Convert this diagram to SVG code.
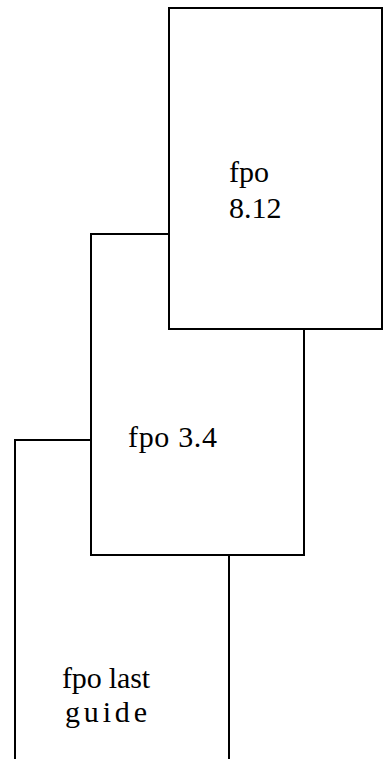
<svg xmlns="http://www.w3.org/2000/svg" width="386" height="759" viewBox="0 0 386 759">
<style>
.box{fill:#fff;stroke:#000;stroke-width:2}
.t{font-family:"Liberation Serif","Times New Roman",serif;font-size:30px;fill:#000}
</style>
<rect width="386" height="759" fill="#fff"/>
<g id="node-last">
<rect class="box" x="15" y="440" width="214" height="330"/>
<text class="t" x="62" y="688" textLength="88" lengthAdjust="spacing">fpo  last</text>
<text class="t" x="65" y="722" textLength="82" lengthAdjust="spacing">guide</text>
</g>
<g id="node-3-4">
<rect class="box" x="91" y="234" width="213" height="321"/>
<text class="t" x="128" y="447" textLength="89" lengthAdjust="spacing">fpo 3.4</text>
</g>
<g id="node-8-12">
<rect class="box" x="169" y="8" width="213" height="321"/>
<text class="t" x="229" y="182">fpo</text>
<text class="t" x="229" y="218">8.12</text>
</g>
<g id="connectors"></g>
</svg>
